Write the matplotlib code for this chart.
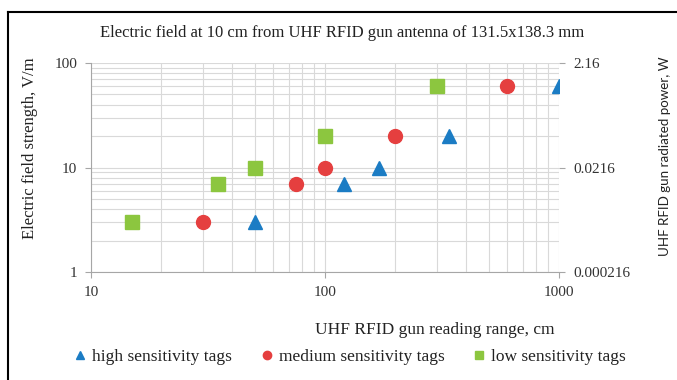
import matplotlib
matplotlib.use("Agg")
import matplotlib.pyplot as plt
from matplotlib.lines import Line2D
from matplotlib.ticker import FixedLocator, NullLocator, NullFormatter

# reading range (cm) and field strength (V/m) for each tag class
high_x = [50, 120, 170, 340, 1000]
high_y = [3, 7, 10, 20, 60]
medium_x = [30, 75, 100, 200, 600]
medium_y = [3, 7, 10, 20, 60]
low_x = [15, 35, 50, 100, 300]
low_y = [3, 7, 10, 20, 60]

x_ticks = [10, 100, 1000]
y_ticks = [1, 10, 100]
power_ticks = [0.000216, 0.0216, 2.16]
power_labels = ["0.000216", "0.0216", "2.16"]

SERIF = "Liberation Serif"
grid_c = "#d9d9d9"
spine_c = "#a6a6a6"

fig = plt.figure(figsize=(6.77, 3.80), dpi=100)
ax = fig.add_axes([0.1344, 0.2842, 0.8257 - 0.1344, 0.8342 - 0.2842])

ax.plot(high_x, high_y, "^", color="#1b7cc4", markersize=9.5, linestyle="none", zorder=3)
ax.plot(medium_x, medium_y, "o", color="#e53f3f", markersize=10, linestyle="none", zorder=3)
ax.plot(low_x, low_y, "s", color="#8cc63f", markersize=9.5, linestyle="none", zorder=3)

ax.set_xscale("log")
ax.set_yscale("log")
ax.set_xlim(10, 1000)
ax.set_ylim(1, 100)
ax.xaxis.set_major_locator(FixedLocator(x_ticks))
ax.yaxis.set_major_locator(FixedLocator(y_ticks))
ax.set_xticklabels([str(v) for v in x_ticks])
ax.set_yticklabels([str(v) for v in y_ticks])
ax.xaxis.set_minor_formatter(NullFormatter())
ax.yaxis.set_minor_formatter(NullFormatter())
ax.tick_params(which="minor", length=0)
ax.tick_params(which="major", length=4, color=spine_c, labelsize=11, pad=6)
for lab in ax.get_xticklabels() + ax.get_yticklabels():
    lab.set_fontfamily(SERIF)
    lab.set_color("#333333")
ax.grid(True, which="both", color=grid_c, linewidth=0.8)
ax.set_axisbelow(True)
for s in ["top", "right"]:
    ax.spines[s].set_visible(False)
for s in ["left", "bottom"]:
    ax.spines[s].set_color(spine_c)

ax.set_xlabel("UHF RFID gun reading range, cm", fontfamily=SERIF, fontsize=12.5,
              color="#222222", va="center")
ax.xaxis.set_label_coords(0.735, -0.277)
ax.set_ylabel("Electric field strength, V/m", fontfamily=SERIF, fontsize=12,
              color="#222222", va="center")
ax.yaxis.set_label_coords(-0.13, 0.593)

# secondary axis: radiated power
ax2 = ax.twinx()
ax2.set_yscale("log")
ax2.set_ylim(power_ticks[0], power_ticks[-1])
ax2.yaxis.set_major_locator(FixedLocator(power_ticks))
ax2.yaxis.set_minor_locator(NullLocator())
ax2.set_yticklabels(power_labels)
ax2.tick_params(length=4, color=spine_c, labelsize=11, pad=6)
for lab in ax2.get_yticklabels():
    lab.set_fontfamily(SERIF)
    lab.set_color("#333333")
for s in ax2.spines.values():
    s.set_visible(False)
ax2.set_ylabel("UHF RFID gun radiated power, W", fontfamily="Lato", fontsize=9.6,
               color="#222222", va="center")
ax2.yaxis.set_label_coords(1.226, 0.555)

fig.text(0.505, 0.913, "Electric field at 10 cm from UHF RFID gun antenna of 131.5x138.3 mm",
         ha="center", va="center", fontfamily=SERIF, fontsize=12, color="#222222")

handles = [
    Line2D([], [], marker="^", color="#1b7cc4", linestyle="none", markersize=6),
    Line2D([], [], marker="o", color="#e53f3f", linestyle="none", markersize=6),
    Line2D([], [], marker="s", color="#8cc63f", linestyle="none", markersize=6),
]
labels = ["high sensitivity tags", "medium sensitivity tags", "low sensitivity tags"]
leg = fig.legend(handles, labels, loc="center", bbox_to_anchor=(0.517, 0.06), ncol=3,
                 frameon=False, handlelength=0.7, handletextpad=0.35, columnspacing=1.65,
                 prop={"family": SERIF, "size": 12.5})
for t in leg.get_texts():
    t.set_color("#222222")

# partial frame around the chart (top and left edges)
fig.add_artist(Line2D([8 / 677, 8 / 677], [0, 1 - 12 / 380], transform=fig.transFigure,
                      color="black", linewidth=1.5))
fig.add_artist(Line2D([8 / 677, 1], [1 - 12 / 380, 1 - 12 / 380], transform=fig.transFigure,
                      color="black", linewidth=1.5))

fig.savefig("out.png", dpi=100)
